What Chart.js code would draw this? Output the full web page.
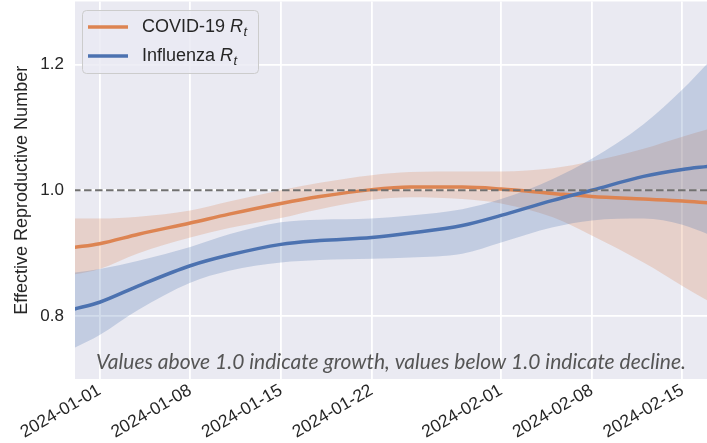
<!DOCTYPE html>
<html>
<head>
<meta charset="utf-8">
<script src="https://cdn.jsdelivr.net/npm/chart.js@4/dist/chart.umd.min.js"></script>
<style>
html,body{margin:0;padding:0;background:#fff;overflow:hidden;}
#wrap{position:absolute;left:0;top:0;width:707px;height:443px;}
</style>
</head>
<body>
<div id="wrap"><canvas id="c" width="707" height="443"></canvas></div>
<script>
// ---- data ----
const dates = ['2023-12-30','2024-01-01','2024-01-04','2024-01-08','2024-01-11','2024-01-15','2024-01-18','2024-01-22','2024-01-25','2024-01-29','2024-02-01','2024-02-05','2024-02-08','2024-02-12','2024-02-15','2024-02-17'];
const covidMean  = [0.909,0.915,0.930,0.948,0.962,0.979,0.990,1.001,1.005,1.005,1.002,0.995,0.990,0.986,0.983,0.980];
const covidUpper = [0.955,0.955,0.958,0.968,0.982,1.000,1.012,1.024,1.029,1.030,1.030,1.035,1.046,1.066,1.085,1.097];
const covidLower = [0.866,0.875,0.900,0.925,0.940,0.956,0.970,0.985,0.989,0.986,0.979,0.957,0.928,0.885,0.848,0.824];
const fluMean    = [0.811,0.822,0.848,0.880,0.897,0.914,0.920,0.925,0.932,0.944,0.960,0.984,1.000,1.022,1.033,1.038];
const fluUpper   = [0.869,0.875,0.888,0.910,0.930,0.949,0.953,0.955,0.960,0.970,0.986,1.018,1.050,1.105,1.160,1.203];
const fluLower   = [0.749,0.770,0.810,0.853,0.872,0.885,0.889,0.891,0.893,0.899,0.917,0.941,0.952,0.955,0.945,0.930];
const tickLabels = ['2024-01-01','2024-01-08','2024-01-15','2024-01-22','2024-02-01','2024-02-08','2024-02-15'];
const yTicks = [0.8, 1.0, 1.2];
const refValue = 1.0;
const seriesNames = ['COVID-19', 'Influenza'];
const annotationText = 'Values above 1.0 indicate growth, values below 1.0 indicate decline.';
const yTitle = 'Effective Reproductive Number';

// ---- helpers ----
const base = Date.parse('2024-01-01T00:00:00Z');
const dayOf = s => (Date.parse(s + 'T00:00:00Z') - base) / 86400000;
const xs = dates.map(dayOf);
const pts = arr => arr.map((v, i) => ({x: xs[i], y: v}));
const tickDays = tickLabels.map(dayOf);

const ORANGE = '#DD8452', BLUE = '#4C72B0';
const FONT = "'Liberation Sans', Arial, sans-serif";
const X_MIN = -1.9, X_MAX = 46.9;

const common = {pointRadius: 0, pointHoverRadius: 0, cubicInterpolationMode: 'monotone'};

const bgPlugin = {
  id: 'bg',
  beforeDraw(chart) {
    const {ctx, chartArea: a} = chart;
    ctx.save();
    ctx.fillStyle = '#ffffff';
    ctx.fillRect(0, 0, chart.width, chart.height);
    ctx.fillStyle = '#EAEAF2';
    ctx.fillRect(a.left, a.top, a.right - a.left, a.bottom - a.top);
    ctx.restore();
  }
};

const overlayPlugin = {
  id: 'overlay',
  afterDraw(chart) {
    const {ctx, chartArea: a} = chart;
    ctx.save();
    // annotation
    ctx.font = "italic 20px Lato, 'Open Sans', sans-serif";
    let w = ctx.measureText(annotationText).width;
    const size = 20 * 590 / w;
    ctx.font = "italic " + size.toFixed(2) + "px Lato, 'Open Sans', sans-serif";
    ctx.fillStyle = '#555555';
    ctx.textAlign = 'center';
    ctx.textBaseline = 'alphabetic';
    ctx.fillText(annotationText, (a.left + a.right) / 2, 369);

    // legend
    const bx = 82.5, by = 10.5, bw = 176, bh = 63;
    ctx.beginPath();
    ctx.roundRect(bx, by, bw, bh, 4);
    ctx.fillStyle = 'rgba(234,234,242,0.8)';
    ctx.fill();
    ctx.strokeStyle = '#cccccc';
    ctx.lineWidth = 1;
    ctx.stroke();
    const rows = [{name: seriesNames[0], c: ORANGE, y: 27}, {name: seriesNames[1], c: BLUE, y: 56}];
    rows.forEach(r => {
      ctx.beginPath();
      ctx.moveTo(88, r.y); ctx.lineTo(128, r.y);
      ctx.strokeStyle = r.c; ctx.lineWidth = 3.5; ctx.lineCap = 'butt';
      ctx.stroke();
      ctx.fillStyle = '#262626';
      ctx.textAlign = 'left';
      ctx.textBaseline = 'middle';
      ctx.font = '18px ' + FONT;
      const t1 = r.name + ' ';
      ctx.fillText(t1, 142, r.y);
      let x = 142 + ctx.measureText(t1).width;
      ctx.font = 'italic 18px ' + FONT;
      ctx.fillText('R', x, r.y);
      x += ctx.measureText('R').width + 0.5;
      ctx.font = 'italic 13px ' + FONT;
      ctx.fillText('t', x, r.y + 5);
    });
    ctx.restore();
  }
};

const noPad = s => { s.paddingTop = 0; s.paddingBottom = 0; s.paddingLeft = 0; s.paddingRight = 0; };

new Chart(document.getElementById('c'), {
  type: 'line',
  data: {
    datasets: [
      {...common, data: pts(covidLower), borderWidth: 0, borderColor: 'rgba(0,0,0,0)', fill: false, order: 6},
      {...common, data: pts(covidUpper), borderWidth: 0, borderColor: 'rgba(0,0,0,0)', backgroundColor: 'rgba(221,132,82,0.25)', fill: '-1', order: 5},
      {...common, data: pts(fluLower), borderWidth: 0, borderColor: 'rgba(0,0,0,0)', fill: false, order: 4},
      {...common, data: pts(fluUpper), borderWidth: 0, borderColor: 'rgba(0,0,0,0)', backgroundColor: 'rgba(76,114,176,0.25)', fill: '-1', order: 3},
      {...common, data: pts(covidMean), borderColor: ORANGE, borderWidth: 3.5, fill: false, order: 2},
      {...common, data: pts(fluMean), borderColor: BLUE, borderWidth: 3.5, fill: false, order: 1},
      {pointRadius: 0, data: [{x: X_MIN - 1, y: refValue}, {x: X_MAX + 1, y: refValue}], borderColor: '#707070', borderWidth: 2, borderDash: [7.5, 3.5], fill: false, order: 0}
    ]
  },
  options: {
    responsive: false,
    devicePixelRatio: 1,
    animation: false,
    layout: {padding: {top: 1.5, left: 0, right: 0, bottom: 0}},
    plugins: {legend: {display: false}, tooltip: {enabled: false}, title: {display: false}},
    scales: {
      x: {
        type: 'linear', min: X_MIN, max: X_MAX,
        border: {display: false},
        grid: {color: '#ffffff', lineWidth: 1.8, drawTicks: false},
        afterBuildTicks: ax => { ax.ticks = tickDays.map(v => ({value: v})); },
        afterFit: s => { s.height = 64; noPad(s); },
        ticks: {
          autoSkip: false, minRotation: 30, maxRotation: 30, padding: 1,
          color: '#262626', font: {size: 17.5, family: FONT},
          callback: v => { const i = tickDays.indexOf(v); return i >= 0 ? tickLabels[i] : ''; }
        }
      },
      y: {
        min: 0.7, max: 1.3,
        border: {display: false},
        grid: {color: '#ffffff', lineWidth: 1.8, drawTicks: false},
        afterBuildTicks: ax => { ax.ticks = yTicks.map(v => ({value: v})); },
        afterFit: s => { s.width = 75; noPad(s); },
        ticks: {padding: 11, color: '#262626', font: {size: 17, family: FONT}, callback: v => Number(v).toFixed(1)},
        title: {display: true, text: yTitle, color: '#262626', font: {size: 18, family: FONT}, padding: {top: 11, bottom: 0}}
      }
    }
  },
  plugins: [bgPlugin, overlayPlugin]
});
</script>
</body>
</html>
